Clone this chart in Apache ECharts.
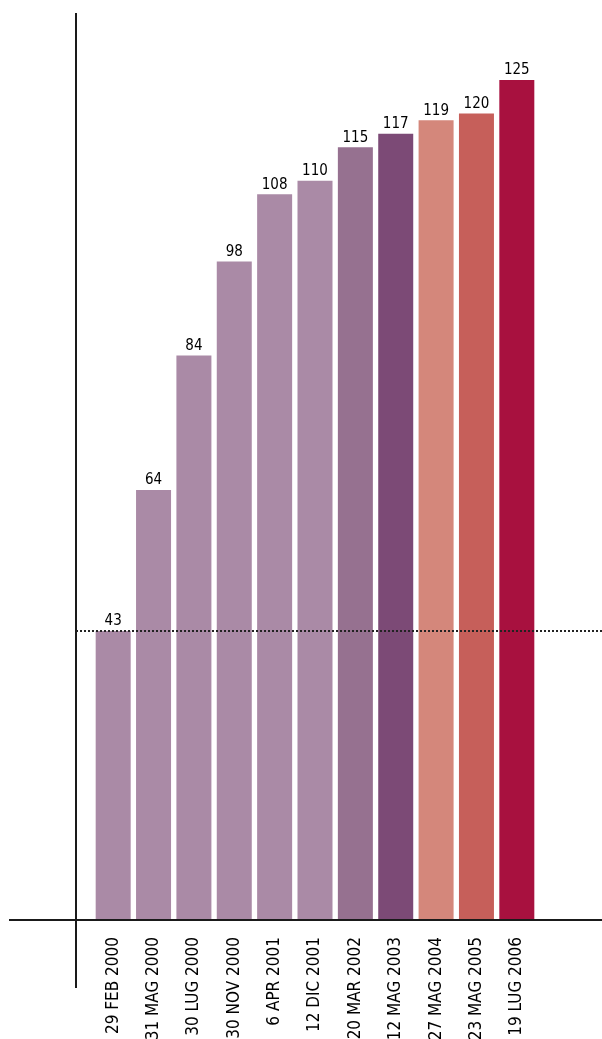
<!DOCTYPE html>
<html>
<head>
<meta charset="utf-8">
<script src="https://cdn.jsdelivr.net/npm/echarts@6/dist/echarts.min.js"></script>
<style>
  html, body { margin: 0; padding: 0; background: #fff; }
  #chart { width: 602px; height: 1039px; }
</style>
</head>
<body>
<div id="chart"></div>
<script>
const categories = [
  "29 FEB 2000", "31 MAG 2000", "30 LUG 2000", "30 NOV 2000", "6 APR 2001",
  "12 DIC 2001", "20 MAR 2002", "12 MAG 2003", "27 MAG 2004", "23 MAG 2005",
  "19 LUG 2006"
];
const values = [43, 64, 84, 98, 108, 110, 115, 117, 119, 120, 125];
const referenceValue = 43;
const barColors = [
  "#aa8aa6", "#aa8aa6", "#aa8aa6", "#aa8aa6", "#aa8aa6",
  "#aa8aa6", "#967190", "#7c4a76", "#d4877b", "#c65f5a",
  "#a8113f"
];

const font = "'DejaVu Sans Condensed', 'DejaVu Sans', sans-serif";
const chart = echarts.init(document.getElementById("chart"), null, { renderer: "canvas" });

chart.setOption({
  backgroundColor: "#fff",
  animation: false,
  grid: { left: 93, right: 65, top: 80, bottom: 119, outerBoundsMode: "none" },
  xAxis: {
    type: "category",
    data: categories,
    axisLine: { show: false },
    axisTick: { show: false },
    axisLabel: {
      rotate: 90,
      margin: 17,
      interval: 0,
      fontSize: 17,
      fontFamily: font,
      color: "#000"
    }
  },
  yAxis: {
    type: "value",
    min: 0,
    max: 125,
    show: false
  },
  series: [{
    type: "bar",
    barWidth: 35,
    data: values.map((v, i) => ({ value: v, itemStyle: { color: barColors[i] } })),
    label: {
      show: true,
      position: "top",
      distance: 2,
      fontSize: 15,
      fontFamily: font,
      color: "#000"
    }
  }]
});

// axis lines and reference line extend past the grid, so draw them as graphics
const baseY = chart.convertToPixel({ yAxisIndex: 0 }, 0);
const refY = chart.convertToPixel({ yAxisIndex: 0 }, referenceValue);
chart.setOption({
  graphic: [
    { type: "line", shape: { x1: 9, y1: baseY, x2: 602, y2: baseY },
      style: { stroke: "#1a1a1a", lineWidth: 2 }, z: 10 },
    { type: "line", shape: { x1: 76, y1: 13, x2: 76, y2: 988 },
      style: { stroke: "#1a1a1a", lineWidth: 2 }, z: 10 },
    { type: "line", shape: { x1: 76, y1: refY, x2: 602, y2: refY },
      style: { stroke: "#222", lineWidth: 2, lineDash: [2, 2] }, z: 10 }
  ]
});
</script>
</body>
</html>
